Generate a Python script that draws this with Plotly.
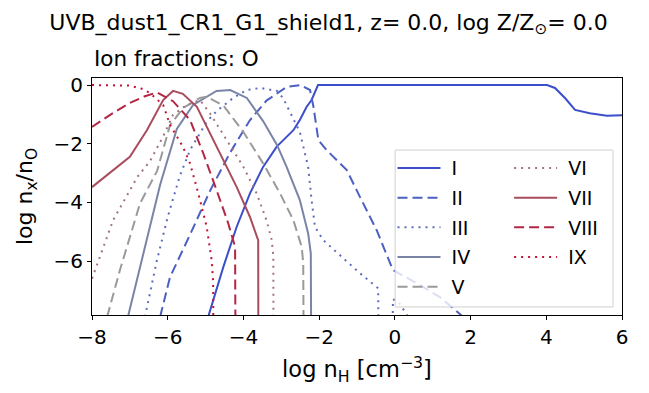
import plotly.graph_objects as go

# ---------------------------------------------------------------------------
# Data: log ion fractions of O vs log nH
# ---------------------------------------------------------------------------

ION_NAMES = ["I", "II", "III", "IV", "V", "VI", "VII", "VIII", "IX"]

X_I = [-4.93, -4.53, -4.18, -3.83, -3.48, -3.12, -2.68, -2.51, -2.33, -2.2,
       -2.03, 0.0, 2.0, 4.02, 4.23, 4.5, 4.76, 5.15, 5.6, 6.0]
Y_I = [-7.9, -6.2, -4.84, -3.7, -2.79, -2.1, -1.54, -1.19, -0.74, -0.51,
       0.0, 0.0, 0.0, 0.0, -0.1, -0.45, -0.85, -0.96, -1.05, -1.03]

X_II = [-6.2, -5.94, -5.41, -4.88, -4.35, -3.83, -3.39, -3.03, -2.85, -2.5,
        -2.24, -2.15, -2.02, -1.8, -1.27, -0.92, -0.48, -0.05, 0.58, 1.19, 1.8]
Y_II = [-7.9, -6.55, -5.1, -3.6, -2.3, -1.2, -0.53, -0.2, -0.06, 0.0,
        -0.17, -0.74, -1.88, -2.22, -2.9, -3.82, -4.95, -6.31, -6.76, -7.23, -7.9]

X_III = [-6.6, -6.29, -6.0, -5.68, -5.41, -5.15, -4.97, -4.71, -4.27, -3.91,
         -3.56, -3.11, -2.95, -2.51, -2.29, -2.2, -2.11, -1.89, -1.45, -0.92,
         -0.44, -0.42, -0.1, -0.05, 0.1, 0.35]
Y_III = [-7.9, -6.0, -4.5, -3.1, -2.22, -1.65, -1.25, -0.89, -0.44, -0.17,
         -0.1, -0.2, -0.45, -1.6, -2.79, -3.92, -4.84, -5.29, -5.8, -6.42,
         -6.93, -12.0, -12.0, -7.3, -7.4, -7.9]

X_IV = [-7.05, -6.73, -6.45, -6.2, -5.76, -5.33, -4.71, -4.35, -3.91, -3.48,
        -3.11, -2.86, -2.51, -2.29, -2.22, -2.2]
Y_IV = [-7.9, -6.2, -4.8, -3.4, -1.5, -0.68, -0.2, -0.17, -0.44, -1.23,
        -2.05, -2.79, -3.92, -5.06, -5.74, -12.0]

X_V = [-7.6, -7.26, -6.73, -6.28, -5.94, -5.6, -5.15, -4.97, -4.53, -4.0,
       -3.48, -3.03, -2.68, -2.46, -2.42, -2.4]
Y_V = [-7.9, -6.3, -4.03, -2.93, -1.37, -0.79, -0.44, -0.4, -0.7, -1.6,
       -2.67, -3.7, -4.61, -5.52, -6.08, -12.0]

X_VI = [-8.0, -7.44, -6.8, -6.47, -6.12, -5.86, -5.5, -5.15, -4.88, -4.44,
        -4.0, -3.65, -3.39, -3.25, -3.21, -3.2]
Y_VI = [-6.6, -4.6, -3.13, -2.6, -1.75, -1.02, -0.68, -0.51, -0.97, -1.88,
        -2.79, -3.7, -4.61, -5.29, -5.86, -12.0]

X_VII = [-8.0, -7.5, -7.0, -6.55, -6.12, -5.86, -5.6, -5.23, -4.88, -4.53,
         -4.18, -3.83, -3.61, -3.6]
Y_VII = [-3.48, -2.95, -2.45, -1.54, -0.51, -0.2, -0.3, -0.74, -1.65, -2.56,
         -3.47, -4.49, -5.29, -12.0]

X_VIII = [-8.0, -7.5, -7.0, -6.6, -6.28, -5.86, -5.41, -5.06, -4.71, -4.4,
          -4.22, -4.2]
Y_VIII = [-1.43, -1.0, -0.61, -0.38, -0.25, -0.55, -1.19, -2.33, -3.58, -4.72,
          -5.52, -12.0]

X_IX = [-8.0, -7.5, -7.0, -6.7, -6.47, -6.12, -5.94, -5.6, -5.41, -5.19,
        -4.97, -4.84, -4.8, -4.78]
Y_IX = [0.0, 0.0, -0.02, -0.12, -0.27, -0.68, -1.35, -2.1, -2.67, -3.7,
        -4.84, -5.97, -6.7, -12.0]

ION_X = [X_I, X_II, X_III, X_IV, X_V, X_VI, X_VII, X_VIII, X_IX]
ION_Y = [Y_I, Y_II, Y_III, Y_IV, Y_V, Y_VI, Y_VII, Y_VIII, Y_IX]

X_TICKS = [-8, -6, -4, -2, 0, 2, 4, 6]
Y_TICKS = [0, -2, -4, -6]

# ---------------------------------------------------------------------------
# Style
# ---------------------------------------------------------------------------

COLORS = ["#3b4fcb", "#4c5fc2", "#5d6cba", "#7a85a6", "#9a9a9a",
          "#a27381", "#a94c5d", "#b32645", "#c90f35"]
DASH_OF = {"solid": "solid", "dash": "10px,5px", "dot": "2px,5px"}
STYLES = ["solid", "dash", "dot", "solid", "dash", "dot", "solid", "dash", "dot"]
FONT = "DejaVu Sans, sans-serif"

fig = go.Figure()

for i, name in enumerate(ION_NAMES):
    fig.add_trace(go.Scatter(
        x=ION_X[i], y=ION_Y[i],
        mode="lines",
        line=dict(color=COLORS[i], width=2, dash=DASH_OF[STYLES[i]]),
        name="\u00a0" + name,
        legend="legend" if i < 5 else "legend2",
        legendgroup=name,
    ))

# legend frame (matplotlib-style, semi-transparent)
fig.add_shape(
    type="rect", xref="paper", yref="paper",
    x0=0.572, x1=0.983, y0=0.034, y1=0.696,
    line=dict(color="#d0d0d0", width=1),
    fillcolor="rgba(255,255,255,0.8)",
    layer="above",
)

fig.add_annotation(
    text="Ion fractions: O",
    xref="paper", yref="paper", x=0, y=1,
    xanchor="left", yanchor="bottom", yshift=5,
    showarrow=False,
    font=dict(size=21.5, color="#000"),
)

axis_common = dict(
    showline=True, linecolor="black", linewidth=1, mirror=True,
    ticks="outside", ticklen=4, tickcolor="black",
    showgrid=False, zeroline=False, automargin=False,
    tickfont=dict(size=20, color="#000"),
)

fig.update_xaxes(
    range=[-8, 6], tickvals=X_TICKS,
    ticktext=[str(v).replace("-", "−") for v in X_TICKS],
    title=dict(text="log n<sub>H</sub> [cm<sup>−3</sup>]", font=dict(size=22.5, color="#000"),
               standoff=13),
    **axis_common,
)
fig.update_yaxes(
    range=[-7.84, 0.24], tickvals=Y_TICKS,
    ticktext=[str(v).replace("-", "−") for v in Y_TICKS],
    title=dict(text="log n<sub>x</sub>/n<sub>O</sub>", font=dict(size=22, color="#000"),
               standoff=14),
    **axis_common,
)

legend_common = dict(
    bgcolor="rgba(0,0,0,0)", borderwidth=0,
    font=dict(size=19, color="#000"),
    tracegroupgap=2, itemwidth=43,
    xanchor="left", yanchor="top",
)

# page body adds an 8px offset, so the figure is 8px smaller each way
fig.update_layout(
    width=641, height=385,
    title=dict(
        text="UVB_dust1_CR1_G1_shield1, z= 0.0, log Z/Z<sub>⊙</sub>= 0.0",
        x=0.5, xref="container", xanchor="center",
        y=0.964, yref="container", yanchor="middle",
        font=dict(size=22, color="#000"),
    ),
    font=dict(family=FONT, color="#000"),
    plot_bgcolor="white", paper_bgcolor="white",
    margin=dict(l=84, r=27, t=70, b=78),
    showlegend=True,
    legend=dict(x=0.567, y=0.70, **legend_common),
    legend2=dict(x=0.787, y=0.70, **legend_common),
)

fig.write_html("out.html")
